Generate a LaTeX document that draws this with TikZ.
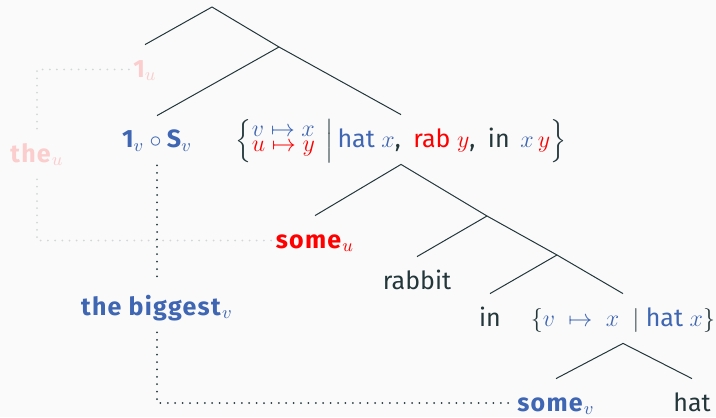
\documentclass[tikz,border=0pt]{standalone}
\usepackage{amsmath}
\usepackage{fontspec}
\setmainfont{Fira Sans}
\definecolor{bg}{HTML}{FAFAFA}
\definecolor{fg}{HTML}{23373B}
\definecolor{myblue}{HTML}{3F66B3}
\definecolor{myred}{HTML}{FF0000}
\colorlet{fadered}{myred!18!bg}
\colorlet{fadegray}{fg!18!bg}
\newcommand{\bw}[1]{\textbf{\addfontfeature{LetterSpace=5}#1}}
\newcommand{\stackrows}[2]{\vcenter{\baselineskip=7.3pt\lineskiplimit=-\maxdimen\hbox{#1}\hbox{#2}}}
\begin{document}
\begin{tikzpicture}[x=0.5pt,y=-0.5pt,
  lbl/.style={anchor=base, inner xsep=2pt, inner ysep=0pt, text height=16pt, text depth=8.5pt, font=\fontsize{12.5}{15}\selectfont, text=fg},
  leaf/.style={lbl, text depth=1pt},
  branch/.style={draw=fg, line width=0.5pt},
  hint/.style={draw=fg, line width=1pt, line cap=round, dash pattern=on 0pt off 3.7pt},
  fadehint/.style={draw=fadegray, line width=1pt, line cap=round, dash pattern=on 0pt off 3.6pt}]
\fill[bg] (0,0) rectangle (716,417);
\useasboundingbox (0,0) rectangle (716,417);

% branch points
\coordinate (root) at (212,7);
\coordinate (n1) at (279,47);
\coordinate (n2) at (487,216);
\coordinate (n3) at (557,255);

% labels
\node[lbl, text=fadered] (oneu) at (145,77) {$\bw{1}_{u}$};
\node[lbl, text=fadered] (theu) at (37,162) {\bw{the}$_{u}$};
\node[lbl, text=myblue] (onevS) at (157,148) {$\bw{1}_{v}\circ\bw{S}_{v}$};
\node[lbl] (set1) at (401,147) {$\Bigl\{\stackrows{\color{myblue}$v\mapsto x$}{\color{myred}$u\mapsto y$}\,\Bigm|\,$\textcolor{myblue}{hat $x$},\enspace\textcolor{myred}{rab $y$},\enspace in\, $\textcolor{myblue}{x}\,\textcolor{myred}{y}\Bigr\}$};
\node[lbl, text=myred] (someu) at (315,248) {\bw{some}$_{u}$};
\node[lbl] (rabbit) at (417,289) {rabbit};
\node[lbl] (in) at (490,326) {in};
\node[lbl] (set2) at (623,326) {$\{\textcolor{myblue}{v\;\mapsto\; x}\;\mid\;$\textcolor{myblue}{hat $x$}$\}$};
\node[lbl, text=myblue] (biggest) at (157,315) {\bw{the biggest}$_{v}$};
\node[leaf, text=myblue] (somev) at (556,411) {\bw{some}$_{v}$};
\node[leaf] (hat) at (692,411) {hat};

% tree
\draw[branch] (root) -- (oneu.north);
\draw[branch] (root) -- (n1);
\draw[branch] (n1) -- (onevS.north);
\draw[branch] (n1) -- (set1.north);
\draw[branch] (set1.south) -- (someu.north);
\draw[branch] (set1.south) -- (n2);
\draw[branch] (n2) -- (rabbit.north);
\draw[branch] (n2) -- (n3);
\draw[branch] (n3) -- (in.north);
\draw[branch] (n3) -- (set2.north);
\draw[branch] (set2.south) -- (somev.north);
\draw[branch] (set2.south) -- (hat.north);

% movement hints
\draw[fadehint] (oneu.west) -| (theu.north);
\draw[fadehint] (theu.south) |- (someu.west);
\draw[hint] (onevS.south) -- (biggest.north);
\draw[hint] (biggest.south) |- ([yshift=-3.5pt]somev.west);
\end{tikzpicture}
\end{document}
